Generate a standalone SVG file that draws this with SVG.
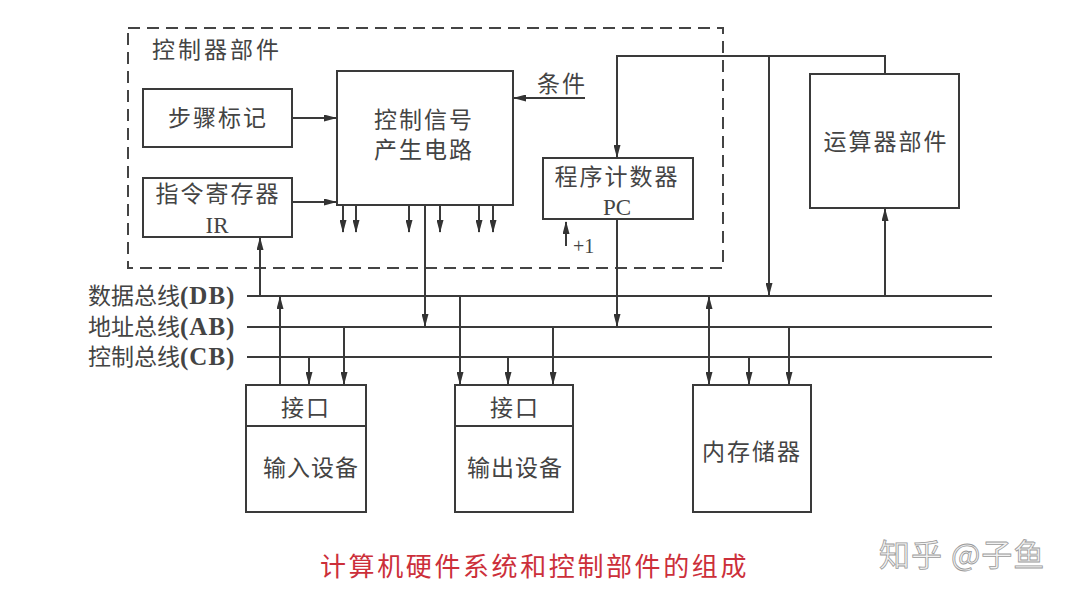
<svg xmlns="http://www.w3.org/2000/svg" width="1080" height="599" viewBox="0 0 1080 599">
<defs>
<marker id="arr" markerUnits="userSpaceOnUse" markerWidth="13" markerHeight="7" refX="12" refY="3.5" orient="auto-start-reverse"><path d="M0,0 L13,3.5 L0,7 z" fill="#333"/></marker>
<style>
.ln{stroke:#3a3a3a;stroke-width:2;fill:none}
.bx{stroke:#3a3a3a;stroke-width:2;fill:#fff}
.ar{stroke:#3a3a3a;stroke-width:2;fill:none;marker-end:url(#arr)}
.t{font-family:"Liberation Serif","Noto Sans CJK SC",serif;font-size:23px;fill:#444;letter-spacing:2px}
.m{text-anchor:middle}
.lat{font-family:"Liberation Serif",serif;font-size:23px;fill:#444;text-anchor:middle}
.bus{font-family:"Liberation Serif","Noto Sans CJK SC",serif;font-size:23px;fill:#444}
.bl{font-family:"Liberation Serif",serif;font-size:25px;font-weight:bold;letter-spacing:1px}
</style>
</defs>
<rect width="1080" height="599" fill="#fff"/>
<g id="controller-unit">
<rect x="128" y="28" width="595" height="240" fill="none" stroke="#444" stroke-width="2" stroke-dasharray="12 7"/>
<text class="t" x="152" y="58" style="letter-spacing:3px">控制器部件</text>
</g>
<g id="step-mark"><rect class="bx" x="143" y="89" width="149" height="58"/><text class="t m" x="218" y="126">步骤标记</text></g>
<g id="ir"><rect class="bx" x="143" y="178" width="149" height="59"/><text class="t m" x="218" y="202">指令寄存器</text><text class="lat" x="217" y="233">IR</text></g>
<g id="ctrl-signal"><rect class="bx" x="337" y="71" width="176" height="134"/><text class="t m" x="424" y="128">控制信号</text><text class="t m" x="424" y="158">产生电路</text></g>
<g id="condition"><text class="t" x="537" y="92">条件</text></g>
<g id="pc"><rect class="bx" x="543" y="158" width="150" height="61"/><text class="t m" x="617" y="185">程序计数器</text><text class="lat" x="617" y="215">PC</text></g>
<g id="plus1"><text class="lat" x="573" y="253" style="font-size:20px;text-anchor:start">+1</text></g>
<g id="alu"><rect class="bx" x="810" y="74" width="149" height="134"/><text class="t m" x="886" y="150">运算器部件</text></g>
<g id="buses">
<text class="bus" x="88" y="304">数据总线<tspan class="bl">(DB)</tspan></text>
<text class="bus" x="88" y="335">地址总线<tspan class="bl">(AB)</tspan></text>
<text class="bus" x="88" y="365">控制总线<tspan class="bl">(CB)</tspan></text>
</g>
<g id="input-device"><rect class="bx" x="246" y="385" width="120" height="127"/><line class="ln" x1="246" y1="426" x2="366" y2="426"/><text class="t m" x="306" y="416">接口</text><text class="t m" x="311" y="476" style="letter-spacing:1px">输入设备</text></g>
<g id="output-device"><rect class="bx" x="455" y="385" width="118" height="127"/><line class="ln" x1="455" y1="426" x2="573" y2="426"/><text class="t m" x="515" y="416">接口</text><text class="t m" x="515" y="476" style="letter-spacing:1px">输出设备</text></g>
<g id="memory"><rect class="bx" x="693" y="385" width="118" height="127"/><text class="t m" x="752" y="460">内存储器</text></g>
<g id="connectors">
<line class="ln" x1="247" y1="296" x2="992" y2="296"/>
<line class="ln" x1="247" y1="327" x2="992" y2="327"/>
<line class="ln" x1="247" y1="357" x2="992" y2="357"/>
<line class="ar" x1="292" y1="118" x2="336" y2="118"/>
<line class="ar" x1="292" y1="202" x2="336" y2="202"/>
<line class="ar" x1="585" y1="98" x2="514" y2="98"/>
<line class="ar" x1="343" y1="206" x2="343" y2="232"/>
<line class="ar" x1="356" y1="206" x2="356" y2="232"/>
<line class="ar" x1="409" y1="206" x2="409" y2="232"/>
<line class="ar" x1="440" y1="206" x2="440" y2="232"/>
<line class="ar" x1="479" y1="206" x2="479" y2="232"/>
<line class="ar" x1="493" y1="206" x2="493" y2="232"/>
<line class="ar" x1="425" y1="206" x2="425" y2="326"/>
<line class="ar" x1="260" y1="296" x2="260" y2="238"/>
<polyline class="ar" points="885,74 885,56 617,56 617,157"/>
<line class="ar" x1="769" y1="56" x2="769" y2="295"/>
<line class="ar" x1="885" y1="296" x2="885" y2="209"/>
<line class="ar" x1="617" y1="219" x2="617" y2="326"/>
<line class="ar" x1="566" y1="246" x2="566" y2="222"/>
<line class="ar" x1="280" y1="385" x2="280" y2="297"/>
<line class="ar" x1="309" y1="357" x2="309" y2="384"/>
<line class="ar" x1="344" y1="327" x2="344" y2="384"/>
<line class="ar" x1="460" y1="296" x2="460" y2="384"/>
<line class="ar" x1="508" y1="357" x2="508" y2="384"/>
<line class="ar" x1="553" y1="327" x2="553" y2="384"/>
<line class="ar" x1="709" y1="297" x2="709" y2="384" style="marker-start:url(#arr)"/>
<line class="ar" x1="749" y1="357" x2="749" y2="384"/>
<line class="ar" x1="789" y1="327" x2="789" y2="384"/>
</g>
<g id="caption"><text x="320" y="576" style="font-family:'Noto Sans CJK SC',sans-serif;font-size:26px;fill:#cc2f3a;letter-spacing:2.6px">计算机硬件系统和控制部件的组成</text></g>
<g id="watermark"><text x="879" y="566" style="font-family:'Noto Sans CJK SC',sans-serif;font-size:31px;fill:#f2f2f2;stroke:#9a9a9a;stroke-width:0.8;letter-spacing:1px">知乎 @子鱼</text></g>
</svg>
